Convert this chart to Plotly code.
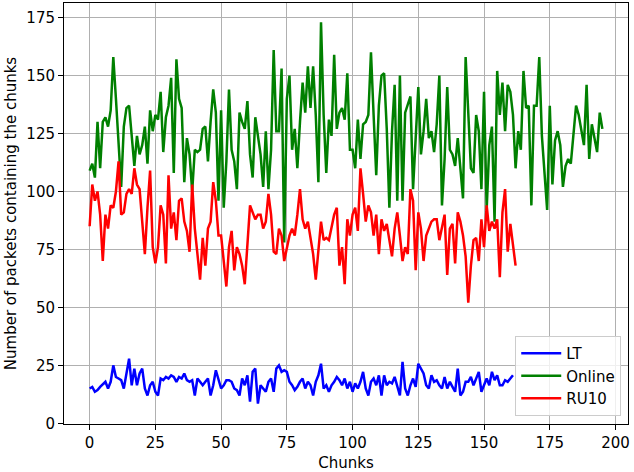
import plotly.graph_objects as go

# ---- data ----
lt_values = [15, 15.7, 13.6, 14.3, 15.7, 17, 17.9, 15, 17.9, 25, 20, 19.3, 18.6, 15, 21.5, 27.9, 16.4, 23.6, 16.4, 21.5,
             23.6, 15, 12, 16.4, 17.9, 13.6, 12, 19.3, 18.6, 20, 19.3, 20.7, 20, 17.9, 20, 19.3, 21.5, 18.6, 17.9, 18.6,
             12, 19.3, 17.9, 16.4, 17.9, 19.3, 12, 16.4, 22.9, 19.3, 15, 16.4, 18.6, 18.6, 17.9, 15, 14.3, 12, 19.3, 16.4,
             20.7, 9.3, 22.2, 23.6, 8.5, 16.4, 15, 13.6, 17.9, 19.3, 13.6, 23.6, 25, 22.2, 22.9, 22.2, 17.9, 16.4, 14.3, 15.7,
             17.9, 19.3, 15, 17.9, 16.4, 12, 17.9, 20.7, 25.7, 15, 16.4, 13.6, 16.4, 17.9, 20, 18.6, 16.4, 19.3, 15, 17.9,
             13.6, 17.2, 15, 17.9, 22.2, 15, 12, 17.9, 19.3, 16.4, 20.7, 12, 20.7, 16.4, 17.9, 17.2, 20, 16.4, 12, 26.5,
             15, 12, 16.4, 19.3, 15.7, 25.7, 23.6, 21.5, 16.4, 15, 20.7, 17.9, 18.6, 16.4, 15, 20, 15, 17.9, 15.7, 13.6,
             23.6, 12, 13.6, 17.9, 17.9, 20, 16.4, 19.3, 22.2, 13.6, 16.4, 19.3, 16.4, 22.2, 18.6, 20.7, 16.4, 16.4, 18.6, 17.9,
             19.3, 20.7]

online_values = [109, 112, 106, 130, 110, 130, 132, 128, 135, 158, 140, 118, 102, 128, 136, 137, 125, 111, 124, 116,
                 120, 128, 112, 135, 126, 133, 131, 143, 117, 132, 137, 149, 108, 157, 140, 136, 104, 123, 116, 100,
                 118, 117, 118, 127, 128, 113, 130, 144, 134, 96, 135, 93, 113, 144, 118, 113, 101, 134, 130, 127,
                 139, 116, 106, 132, 124, 116, 102, 126, 101, 118, 161, 126, 126, 153, 78, 140, 150, 118, 127, 110,
                 130, 147, 134, 154, 136, 154, 133, 104, 173, 133, 108, 131, 124, 159, 127, 134, 136, 131, 151, 118,
                 118, 110, 131, 114, 129, 130, 133, 160, 133, 107, 137, 150, 151, 127, 93, 126, 146, 96, 150, 96,
                 134, 138, 141, 101, 126, 145, 116, 126, 140, 123, 126, 117, 129, 150, 94, 114, 145, 118, 116, 111,
                 123, 110, 97, 158, 136, 110, 108, 133, 126, 101, 143, 92, 120, 128, 87, 152, 133, 147, 126, 146,
                 143, 133, 110, 126, 118, 152, 136, 137, 94, 137, 137, 158, 124, 110, 92, 137, 103, 122, 126, 120,
                 102, 111, 114, 112, 124, 137, 133, 127, 120, 146, 114, 129, 123, 117, 134, 127]

ru10_values = [85, 103, 96, 100, 90, 70, 90, 84, 94, 93, 100, 113, 90, 91, 99, 101, 99, 110, 103, 101,
               87, 73, 93, 109, 76, 69, 76, 94, 90, 69, 107, 84, 91, 79, 96, 97, 87, 83, 74, 103,
               84, 72, 62, 80, 68, 84, 87, 104, 96, 81, 81, 70, 59, 76, 83, 66, 76, 73, 68, 60,
               76, 94, 91, 88, 90, 90, 84, 87, 99, 90, 74, 73, 84, 81, 70, 76, 81, 84, 81, 90,
               101, 88, 84, 87, 79, 73, 62, 76, 87, 79, 80, 79, 84, 90, 93, 68, 76, 60, 88, 81,
               90, 93, 83, 110, 99, 87, 94, 91, 81, 90, 73, 88, 83, 86, 79, 72, 84, 91, 81, 70,
               76, 73, 101, 96, 66, 91, 84, 70, 81, 84, 87, 88, 88, 79, 84, 90, 64, 84, 86, 69,
               91, 87, 81, 72, 52, 68, 79, 80, 70, 88, 76, 94, 83, 87, 84, 88, 63, 91, 101, 74,
               86, 76, 68]

series = [
    ("LT", lt_values, "#0000ff"),
    ("Online", online_values, "#008000"),
    ("RU10", ru10_values, "#ff0000"),
]

x_ticks = [0, 25, 50, 75, 100, 125, 150, 175, 200]
y_ticks = [0, 25, 50, 75, 100, 125, 150, 175]

FONT = "DejaVu Sans"
FS = 15

fig = go.Figure()
for name, vals, color in series:
    fig.add_trace(go.Scatter(
        x=list(range(len(vals))), y=vals, mode="lines", name=name,
        line=dict(color=color, width=2.5),
    ))

axis_common = dict(
    showgrid=True, gridcolor="#b0b0b0", gridwidth=1,
    showline=True, linecolor="black", linewidth=1, mirror=True,
    ticks="outside", ticklen=5, tickwidth=1, tickcolor="black",
    zeroline=False, automargin=False,
    tickfont=dict(family=FONT, size=FS, color="black"),
)

fig.update_layout(
    width=634, height=472,
    margin=dict(l=64, r=6, t=3, b=48),
    paper_bgcolor="white", plot_bgcolor="white",
    font=dict(family=FONT, size=FS, color="black"),
    xaxis=dict(range=[-9.75, 204.75], tickvals=x_ticks,
               title=dict(text="Chunks", font=dict(family=FONT, size=FS), standoff=7),
               **axis_common),
    yaxis=dict(range=[-0.3, 181.3], tickvals=y_ticks,
               title=dict(text="Number of packets containing the chunks", font=dict(family=FONT, size=FS), standoff=6),
               **axis_common),
    legend=dict(x=0.988, y=0.019, xanchor="right", yanchor="bottom",
                bgcolor="rgba(255,255,255,0.8)", bordercolor="#cccccc", borderwidth=1,
                font=dict(family=FONT, size=FS), tracegroupgap=0, itemwidth=40),
    showlegend=True,
)

fig.write_html("out.html", config={"displayModeBar": False},
               post_script="document.body.style.margin='0';")
